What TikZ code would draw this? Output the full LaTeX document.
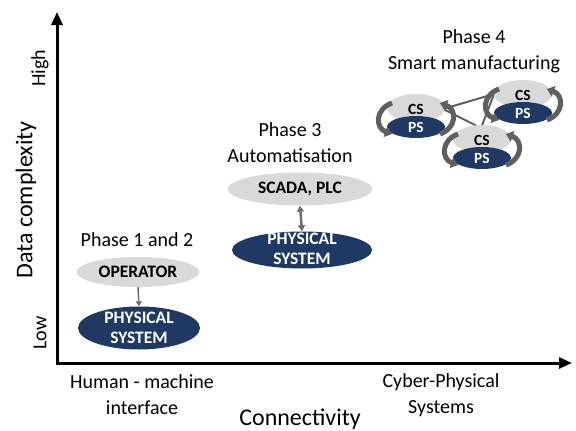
\documentclass[tikz,border=0pt]{standalone}
\usepackage{fontspec}
\setmainfont{Carlito}
\usetikzlibrary{shapes.geometric,arrows.meta,calc}
\definecolor{navy}{HTML}{203864}
\definecolor{lgray}{HTML}{D9D9D9}
\definecolor{dgray}{HTML}{5F5F5F}
\definecolor{mgray}{HTML}{6E6E6E}
\newcommand{\mycluster}[3]{%
  \node[csell] (#1cs) at (#2,#3) {};
  \node[psell] (#1ps) at (#2,#3+19) {};
  \node[cstext] at ($(#1cs)+(0,1.5)$) {CS};
  \node[pstext] at ($(#1ps)+(0,0.5)$) {PS};
  \draw[cyc] ($(#1cs)+(-24,-5)$) .. controls ($(#1cs)+(-41,1)$) and ($(#1cs)+(-41,20)$) .. ($(#1cs)+(-24,26)$);
  \draw[cyc] ($(#1cs)+(24,26)$) .. controls ($(#1cs)+(41,20)$) and ($(#1cs)+(41,1)$) .. ($(#1cs)+(24,-5)$);
}
\begin{document}
\begin{tikzpicture}[x=1pt,y=-1pt,
  lbl/.style={font=\fontsize{20}{26}\selectfont, inner sep=0pt},
  axtitle/.style={font=\fontsize{24}{28}\selectfont, inner sep=0pt},
  axis/.style={line width=3pt, line join=miter, {Triangle[length=13pt,width=11pt]}-{Triangle[length=13pt,width=11pt]}},
  bigg/.style={ellipse, fill=lgray, inner sep=0pt},
  bigb/.style={ellipse, fill=navy, inner sep=0pt},
  etext/.style={font=\bfseries\fontsize{17.5}{20}\selectfont, inner sep=0pt, align=center},
  csell/.style={ellipse, fill=lgray, inner sep=0pt, minimum width=58pt, minimum height=28pt},
  psell/.style={ellipse, fill=navy, inner sep=0pt, minimum width=58pt, minimum height=22pt},
  cstext/.style={font=\bfseries\fontsize{15.5}{17}\selectfont, inner sep=0pt},
  pstext/.style={font=\bfseries\fontsize{15.5}{17}\selectfont, text=white, inner sep=0pt},
  cyc/.style={draw=dgray, line width=5pt, -{Triangle[length=7pt,width=11pt]}},
  link/.style={draw=dgray, line width=2pt},
  smallarr/.style={draw=mgray, line width=1.5pt, -{Triangle[length=5pt,width=6pt]}},
  dblarr/.style={draw=mgray, line width=2.5pt, {Triangle[length=6pt,width=7pt]}-{Triangle[length=6pt,width=7pt]}}
]
\useasboundingbox (0,0) rectangle (576,431);

% axes
\coordinate (ytop) at (57,12);
\coordinate (orig) at (57,363);
\coordinate (xend) at (572,363);
\draw[axis] (ytop) -- (orig) -- (xend);

\node[lbl,rotate=90] (high) at (40,68) {High};
\node[lbl,rotate=90] (low) at (40,333) {Low};
\node[axtitle,rotate=90] (ylab) at (26,200) {Data complexity};
\node[axtitle] (xlab) at (300,419) {Connectivity};
\node[lbl,align=center] (hmi) at (142,395) {Human - machine\\interface};
\node[lbl,align=center] (cps) at (441,395) {Cyber-Physical\\Systems};

% Phase 1 and 2
\node[lbl] (ph1) at (137,240) {Phase 1 and 2};
\node[bigg, minimum width=123pt, minimum height=30pt] (op) at (138,272) {};
\node[bigb, minimum width=122pt, minimum height=43pt] (ps1) at (139,328) {};
\node[etext] at (op) {OPERATOR};
\node[etext, text=white] at (ps1) {PHYSICAL\\SYSTEM};
\draw[smallarr] (op.south) -- (ps1.north);

% Phase 3
\node[lbl,align=center] (ph3) at (290,143) {Phase 3\\Automatisation};
\node[bigg, minimum width=145pt, minimum height=33pt] (scada) at (300,189) {};
\node[bigb, minimum width=140pt, minimum height=37pt] (ps3) at (302,250) {};
\node[etext] at (scada) {SCADA, PLC};
\node[etext, text=white] at ($(ps3)+(0,-1)$) {PHYSICAL\\SYSTEM};
\draw[dblarr] (scada.south) -- (ps3.north);

% Phase 4
\node[lbl,align=center] (ph4) at (474,51) {Phase 4\\Smart manufacturing};
\coordinate (la) at (443,109);
\coordinate (ra) at (494,94);
\coordinate (ba) at (481,128);
\draw[link] (la) -- (ra) -- (ba) -- cycle;
\mycluster{l}{416}{108}
\mycluster{r}{523}{94}
\mycluster{b}{482}{139}
\end{tikzpicture}
\end{document}
